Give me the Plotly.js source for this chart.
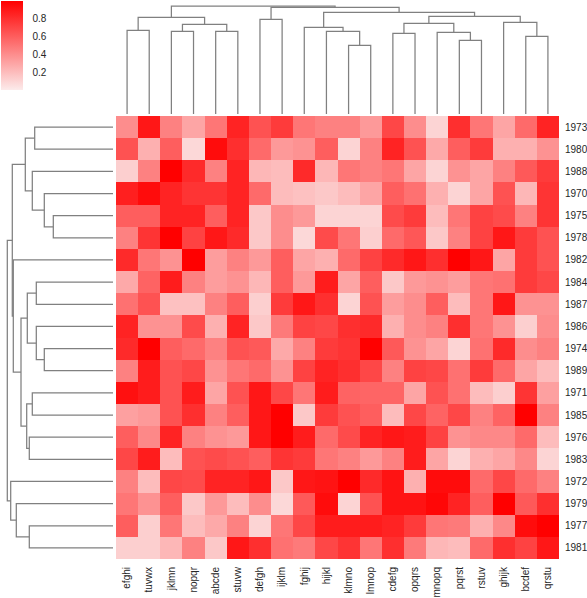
<!DOCTYPE html>
<html>
<head>
<meta charset="utf-8">
<script src="https://cdn.plot.ly/plotly-3.0.1.min.js"></script>
<style>html,body{margin:0;padding:0;background:#fff;}#chart{width:587px;height:598px;}</style>
</head>
<body>
<div id="chart"></div>
<script>
// Column labels (display order after clustering)
var colLabels = ["efghi","tuvwx","jklmn","nopqr","abcde","stuvw","defgh","ijklm","fghij","hijkl",
                 "klmno","lmnop","cdefg","opqrs","mnopq","pqrst","rstuv","ghijk","bcdef","qrstu"];
// Row labels (display order after clustering)
var rowLabels = ["1973","1980","1988","1970","1975","1978","1982","1984","1987","1986",
                 "1974","1989","1971","1985","1976","1983","1972","1979","1977","1981"];

// Cell values, one array per row
var v1973 = [0.40,0.90,0.45,0.30,0.50,0.85,0.65,0.75,0.50,0.45,0.45,0.35,0.70,0.40,0.10,0.80,0.50,0.30,0.55,0.85];
var v1980 = [0.65,0.25,0.60,0.08,0.95,0.80,0.55,0.35,0.38,0.60,0.10,0.45,0.85,0.65,0.28,0.60,0.75,0.25,0.25,0.38];
var v1988 = [0.12,0.45,1.00,0.82,0.45,0.85,0.22,0.20,0.82,0.22,0.50,0.45,0.50,0.30,0.10,0.38,0.30,0.45,0.62,0.75];
var v1970 = [0.87,0.95,0.85,0.78,0.78,0.85,0.55,0.20,0.18,0.15,0.20,0.30,0.60,0.52,0.25,0.10,0.30,0.65,0.22,0.78];
var v1975 = [0.60,0.60,0.85,0.85,0.60,0.85,0.15,0.40,0.35,0.10,0.10,0.10,0.68,0.75,0.20,0.50,0.72,0.68,0.45,0.78];
var v1978 = [0.45,0.78,1.00,0.72,0.90,0.82,0.15,0.40,0.08,0.68,0.50,0.12,0.55,0.63,0.15,0.45,0.72,0.90,0.75,0.65];
var v1982 = [0.82,0.50,0.38,1.00,0.33,0.45,0.35,0.60,0.30,0.25,0.55,0.72,0.82,0.90,0.80,1.00,0.90,0.30,0.75,0.65];
var v1984 = [0.28,0.58,0.88,0.45,0.33,0.38,0.22,0.60,0.35,0.88,0.30,0.60,0.15,0.35,0.38,0.33,0.50,0.52,0.75,0.70];
var v1987 = [0.52,0.65,0.18,0.18,0.45,0.60,0.12,0.75,0.90,0.80,0.10,0.65,0.33,0.40,0.60,0.20,0.50,0.90,0.38,0.38];
var v1986 = [0.85,0.38,0.38,0.68,0.25,0.85,0.15,0.48,0.72,0.70,0.80,0.82,0.25,0.40,0.45,0.80,0.50,0.38,0.12,0.40];
var v1974 = [0.82,1.00,0.60,0.55,0.45,0.65,0.62,0.28,0.45,0.75,0.78,1.00,0.62,0.38,0.30,0.10,0.52,0.82,0.40,0.45];
var v1989 = [0.45,0.88,0.65,0.70,0.38,0.50,0.55,0.38,0.72,0.85,0.80,0.70,0.45,0.72,0.70,0.52,0.75,0.55,0.30,0.20];
var v1971 = [0.93,0.88,0.65,0.88,0.30,0.65,0.90,0.70,0.50,0.88,0.58,0.57,0.57,0.30,0.65,0.52,0.20,0.12,0.78,0.32];
var v1985 = [0.32,0.35,0.65,0.80,0.45,0.60,0.90,1.00,0.15,0.75,0.65,0.60,0.20,0.70,0.58,0.70,0.45,0.58,1.00,0.45];
var v1976 = [0.60,0.42,0.85,0.45,0.38,0.35,0.90,1.00,0.88,0.55,0.68,0.85,0.90,0.88,0.72,0.38,0.42,0.42,0.55,0.20];
var v1983 = [0.70,0.88,0.20,0.65,0.68,0.65,0.60,0.78,0.75,0.50,0.45,0.35,0.45,0.88,0.30,0.10,0.25,0.30,0.42,0.10];
var v1972 = [0.45,0.20,0.70,0.68,0.85,0.85,0.90,0.15,0.90,0.92,1.00,0.82,0.92,0.25,0.95,0.95,0.55,0.70,0.55,0.45];
var v1979 = [0.50,0.38,0.60,0.15,0.35,0.20,0.40,0.08,0.62,0.95,0.10,0.65,0.92,0.92,0.97,0.85,0.60,1.00,0.62,0.80];
var v1977 = [0.60,0.12,0.50,0.20,0.28,0.45,0.10,0.50,0.70,0.88,0.88,0.88,0.85,0.75,0.50,0.48,0.25,0.42,0.95,1.00];
var v1981 = [0.12,0.12,0.22,0.45,0.15,0.90,0.80,0.52,0.48,0.70,0.78,0.50,0.80,0.48,0.22,0.20,0.55,0.80,0.72,0.90];

var zValues = [v1973,v1980,v1988,v1970,v1975,v1978,v1982,v1984,v1987,v1986,
               v1974,v1989,v1971,v1985,v1976,v1983,v1972,v1979,v1977,v1981];

// Column dendrogram linkage: node 20+k merges colLinkA[k] and colLinkB[k] at colLinkH[k]
var colLinkA = [0, 2, 4, 21, 20, 6, 10, 9, 8, 12, 15, 14, 29, 18, 17, 32, 28, 25, 24];
var colLinkB = [1, 3, 5, 22, 23, 7, 11, 26, 27, 13, 16, 30, 31, 19, 33, 34, 35, 36, 37];
var colLinkH = [83.7, 82.7, 82.7, 89.7, 96.7, 94.7, 68.7, 82.7, 86.7, 80.7, 73.7, 81.7, 90.7, 77.7, 91.7, 97.7, 101.7, 106.7, 108];

// Row dendrogram linkage
var rowLinkA = [0, 4, 3, 2, 20, 7, 10, 9, 25, 12, 14, 29, 28, 6, 24, 18, 17, 16, 34];
var rowLinkB = [1, 5, 21, 22, 23, 8, 11, 26, 27, 13, 15, 30, 31, 32, 33, 19, 35, 36, 37];
var rowLinkH = [78.3, 59.7, 68.7, 80.7, 87.7, 76.7, 68.7, 76.7, 85.7, 80.7, 83.7, 86.3, 92, 99.7, 100.7, 83.7, 96.7, 102.3, 105.7];

function dendroSegments(nLeaves, A, B, H) {
  var pos = [], hgt = [];
  for (var i = 0; i < nLeaves; i++) { pos.push(i); hgt.push(0); }
  var p = [], h = [];
  for (var k = 0; k < A.length; k++) {
    var a = A[k], b = B[k];
    p.push(pos[a], pos[a], pos[b], pos[b], null);
    h.push(hgt[a], H[k], H[k], hgt[b], null);
    pos.push((pos[a] + pos[b]) / 2);
    hgt.push(H[k]);
  }
  return {p: p, h: h};
}

var W = 587, Hh = 598;
var colD = dendroSegments(colLabels.length, colLinkA, colLinkB, colLinkH);
var rowD = dendroSegments(rowLabels.length, rowLinkA, rowLinkB, rowLinkH);

var idx = colLabels.map(function(_, i){ return i; });
var ridx = rowLabels.map(function(_, i){ return i; });

var lineStyle = {color: '#808080', width: 1.25};
var fontFam = 'Liberation Sans, Arial, sans-serif';

var traces = [
  {
    type: 'heatmap', z: zValues, x: idx, y: ridx, xaxis: 'x', yaxis: 'y',
    zmin: 0, zmax: 1,
    colorscale: [[0, '#fcebeb'], [1, '#ff0000']],
    hoverinfo: 'skip',
    colorbar: {
      x: 1 / W, xanchor: 'left', y: 1 - 1 / Hh, yanchor: 'top',
      len: 89, lenmode: 'pixels', thickness: 22, thicknessmode: 'pixels',
      outlinewidth: 0, xpad: 0, ypad: 0,
      tickvals: [0.2, 0.4, 0.6, 0.8], ticktext: ['0.2','0.4','0.6','0.8'],
      ticks: 'outside', ticklen: 8, tickcolor: 'rgba(0,0,0,0)',
      tickfont: {size: 10, color: '#262626', family: fontFam}
    }
  },
  {
    type: 'scatter', mode: 'lines', x: colD.p, y: colD.h, xaxis: 'x2', yaxis: 'y2',
    line: lineStyle, hoverinfo: 'skip', connectgaps: false
  },
  {
    type: 'scatter', mode: 'lines', x: rowD.h, y: rowD.p, xaxis: 'x3', yaxis: 'y3',
    line: lineStyle, hoverinfo: 'skip', connectgaps: false
  }
];

var heatDomX = [116 / W, 559 / W];
var heatDomY = [1 - 559 / Hh, 1 - 116 / Hh];

var layout = {
  width: W, height: Hh,
  margin: {l: 0, r: 0, t: 0, b: 0, pad: 0},
  paper_bgcolor: '#ffffff', plot_bgcolor: '#ffffff',
  showlegend: false,
  font: {family: fontFam, size: 10, color: '#262626'},
  xaxis: {
    domain: heatDomX, anchor: 'y', range: [-0.5, 19.5],
    tickmode: 'array', tickvals: idx, ticktext: colLabels, tickangle: -90,
    ticks: '', showgrid: false, zeroline: false, showline: false,
    ticklabelstandoff: 5,
    tickfont: {size: 10, color: '#262626', family: fontFam}
  },
  yaxis: {
    domain: heatDomY, anchor: 'x', range: [19.5, -0.5], side: 'right',
    tickmode: 'array', tickvals: ridx, ticktext: rowLabels,
    ticks: '', showgrid: false, zeroline: false, showline: false,
    ticklabelstandoff: 5,
    tickfont: {size: 10, color: '#262626', family: fontFam}
  },
  xaxis2: {domain: heatDomX, anchor: 'y2', range: [-0.5, 19.5], visible: false},
  yaxis2: {domain: [1 - 114 / Hh, 1], anchor: 'x2', range: [0, 114], visible: false},
  xaxis3: {domain: [0, 113 / W], anchor: 'y3', range: [113, 0], visible: false},
  yaxis3: {domain: heatDomY, anchor: 'x3', range: [19.5, -0.5], visible: false}
};

Plotly.newPlot('chart', traces, layout, {staticPlot: true, displayModeBar: false});
</script>
</body>
</html>
